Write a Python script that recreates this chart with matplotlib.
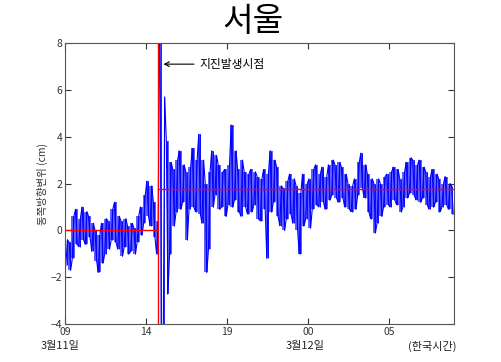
import numpy as np
import matplotlib
matplotlib.use("Agg")
import matplotlib.pyplot as plt

plt.rcParams['font.family'] = ['Noto Sans CJK KR', 'DejaVu Sans']

# ---------------------------------------------------------------------------
# 데이터 (0.2시간 간격 구간별 최저/최고 변위, cm) - 09시 기준 경과시간
# ---------------------------------------------------------------------------
bin_hours = 0.2
disp_lo = [
    -1.5, -1.7, -1.2, -0.6, -0.7, -0.4, -0.6, -0.3, -0.9, -1.3,
    -1.8, -1.4, -1.0, -0.8, -0.4, -0.5, -0.8, -1.1, -0.7, -1.0,
    -0.9, -1.0, -0.5, -0.2, 0.3, 0.6, 0.2, -0.3, -1.0,
    -8.0, -6.0, -2.7, -1.0, 0.2, 0.8, 0.9, 1.2, -0.4, 0.9, 1.0,
    0.8, 0.7, 0.3, -1.8, -0.8, 1.0, 1.5, 0.9, 1.0, 0.6,
    1.1, 1.0, 1.3, 0.8, 0.6, 1.0, 0.7, 0.8, 1.1, 0.5,
    0.4, 0.9, -1.2, 0.8, 1.2, 0.6, 0.2, 0.0, 0.5, 0.7,
    0.3, 0.0, -1.0, 0.2, 0.5, 0.1, 0.9, 1.1, 1.0, 1.2,
    0.9, 1.3, 1.5, 1.4, 1.2, 1.4, 1.0, 0.9, 0.8, 0.9,
    1.5, 1.8, 1.4, 0.8, 0.5, -0.1, 0.3, 0.6, 1.0, 1.1,
    1.0, 1.3, 1.1, 0.8, 1.0, 1.4, 1.6, 1.5, 1.3, 1.2,
    1.4, 1.1, 0.9, 1.0, 1.2, 0.8, 1.0, 1.1, 0.9, 0.7,
]
disp_hi = [
    -0.4, -0.5, 0.6, 0.9, 0.5, 1.0, 0.8, 0.6, 0.3, 0.0,
    -0.2, 0.3, 0.5, 0.4, 0.9, 1.2, 0.6, 0.4, 0.5, 0.2,
    0.3, 0.1, 0.6, 1.0, 1.5, 2.1, 1.9, 1.2, 0.4,
    12.0, 5.7, 3.8, 2.9, 2.6, 3.0, 3.4, 2.8, 2.5, 2.7, 3.5,
    3.0, 4.1, 3.0, 2.0, 2.5, 3.4, 3.2, 2.8, 2.5, 2.6,
    2.8, 4.5, 3.4, 2.6, 3.0, 2.5, 2.4, 2.6, 2.5, 2.3,
    2.2, 2.6, 2.4, 3.4, 3.0, 2.7, 1.9, 1.8, 2.1, 2.4,
    2.2, 1.9, 1.6, 2.4, 2.0, 2.2, 2.6, 2.8, 2.4, 2.7,
    2.3, 2.8, 3.0, 2.8, 2.9, 2.7, 2.4, 2.0, 1.9, 2.2,
    2.9, 3.3, 2.8, 2.4, 2.2, 2.0, 2.2, 2.0, 2.3, 2.4,
    2.5, 2.7, 2.6, 2.2, 2.5, 2.9, 3.1, 3.0, 2.8, 3.0,
    2.7, 2.5, 2.3, 2.6, 2.4, 2.2, 2.0, 2.3, 2.0, 1.9,
]

quake_hour = 5.75          # 14:46
mean_before = 0.0
mean_after = 1.75

tick_hours = [0, 5, 10, 15, 20]
tick_labels = ['09', '14', '19', '00', '05']
date_labels = [(-0.3, '3월11일'), (14.8, '3월12일'), (22.65, '(한국시간)')]

lo = np.array(disp_lo)
hi = np.array(disp_hi)
centers = (np.arange(len(lo)) + 0.5) * bin_hours

# 구간별 최저/최고값을 번갈아 이어서 시계열로 만든다
t = []
y = []
for k in range(len(lo)):
    t += [k * bin_hours + 0.05, k * bin_hours + 0.15]
    y += [lo[k], hi[k]] if k % 2 == 0 else [hi[k], lo[k]]

fig = plt.figure(figsize=(5.02, 3.62), dpi=100)
ax = fig.add_axes([0.1295, 0.105, 0.775, 0.776])

# 촘촘한 변위 띠 (지진 순간의 큰 진폭은 선으로만)
ax.fill_between(centers, lo, hi, where=(hi - lo) < 8, step='mid',
                color='#2a2aff', alpha=0.75, linewidth=0)
ax.plot(t, y, color='blue', linewidth=0.8)
ax.vlines(centers, lo, hi, color='blue', linewidth=0.6)

ax.plot([0, quake_hour], [mean_before, mean_before], color='red', linewidth=1.0)
ax.plot([quake_hour, 24], [mean_after, mean_after], color='red', linewidth=1.0)
ax.axvline(quake_hour, color='red', linewidth=1.0)

ax.annotate('지진발생시점', xy=(5.9, 7.1), xytext=(8.3, 7.1),
            fontsize=8.5, va='center', ha='left',
            arrowprops=dict(arrowstyle='->', color='black', lw=0.8))

ax.set_xlim(0, 24)
ax.set_ylim(-4, 8)
ax.set_xticks(tick_hours)
ax.set_xticklabels(tick_labels)
ax.set_yticks([-4, -2, 0, 2, 4, 6, 8])
ax.tick_params(direction='in', length=4, labelsize=7.5, top=True, right=True,
               colors='#333333', pad=2)
for s in ax.spines.values():
    s.set_color('#555555')
    s.set_linewidth(0.8)

ax.set_ylabel('동쪽방향변위 (cm)', fontsize=7.5, color='#333333', labelpad=2)

for h, lab in date_labels:
    ax.text(h, -4.95, lab, ha='center', va='center', fontsize=8, color='#222222')

fig.text(0.504, 0.94, '서울', ha='center', va='center', fontsize=24)

fig.savefig('out.png', dpi=100)
